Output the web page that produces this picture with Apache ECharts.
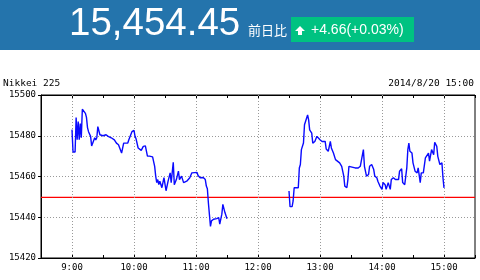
<!DOCTYPE html>
<html><head><meta charset="utf-8">
<script src="https://cdn.jsdelivr.net/npm/echarts@6/dist/echarts.min.js"></script>
<style>html,body{margin:0;padding:0;background:#fff}#c{width:480px;height:280px}</style>
</head><body><div id="c"></div>
<script>
// minutes after 9:00 and index values (morning session)
const amMinutes = [0,1,3,4,5,6,7,8,9,10,13,14,15,16,17,18,19,20,22,23,24,25,26,27,30,33,35,38,41,43,45,48,49,50,51,54,55,58,59,60,61,62,64,67,69,71,73,75,78,79,80,81,82,83,84,85,87,88,89,91,93,95,96,98,99,101,103,104,106,108,111,112,114,116,117,121,122,124,127,129,130,131,132,134,135,137,140,142,143,144,145,146,147,148,149,150];
const amValues = [15483,15472,15472,15489,15478,15487,15478,15486,15479,15493,15491,15489,15484,15482,15481.5,15479.7,15475,15475.6,15479,15478,15479,15484.5,15485.4,15480.5,15480,15480.5,15479.7,15479,15478,15476.4,15475.6,15471.5,15471,15476.4,15477.2,15476.4,15478,15482,15481.3,15482.6,15479.7,15478.5,15474,15472.8,15474.8,15475,15470,15470,15469.6,15469,15465,15460.2,15457,15458.5,15456,15457.7,15454.5,15457,15459.4,15453,15457.7,15461.8,15457,15467,15456,15458.5,15462.6,15458.5,15460.2,15457,15457.7,15458.5,15459.4,15461.8,15461,15462,15460.5,15459.4,15459.5,15458.5,15455.3,15454,15447,15435.5,15438.2,15439,15439.3,15439.8,15436.6,15436.6,15441.5,15446.3,15446.3,15442.3,15441.5,15439.3];
// afternoon session
const pmMinutes = [210,211,213,214,215,219,220,221,222,224,225,226,227,228,229,230,231,232,233,235,237,238,240,242,243,245,246,248,250,251,253,255,256,259,261,263,264,266,267,268,269,274,277,279,282,283,284,285,287,288,290,292,293,295,296,298,300,301,303,304,306,308,309,311,313,314,316,317,319,320,322,324,325,326,327,329,330,332,334,335,337,338,340,342,343,345,346,348,350,351,353,354,356,358,359,360];
const pmValues = [15452.9,15445.2,15445.2,15448,15454.5,15454.5,15464.2,15465.9,15473.2,15476.4,15485.4,15486.2,15488.6,15490.2,15487.8,15482.9,15482.1,15481.3,15476.4,15477.2,15479.7,15479,15478,15477.2,15476.4,15477.2,15473.5,15472.4,15477.2,15474,15471.5,15468.3,15467.5,15466.7,15465,15460.2,15455.3,15454.5,15458.5,15465,15464.2,15464.2,15464.2,15465,15473.2,15465,15465,15460.2,15461,15465,15465.9,15463.4,15460.2,15459.4,15457.7,15455.3,15453.7,15457,15456,15453.7,15457,15453.7,15458.5,15459.4,15458.5,15459.4,15458.5,15462.6,15463.8,15457,15456,15464.2,15473.2,15476.4,15472.4,15471.5,15466.7,15462.6,15461.8,15464.2,15457,15461.8,15461.8,15469.1,15469,15471.5,15467.5,15473.2,15470.7,15476.8,15474.8,15469.9,15465.9,15466.7,15459.4,15454.45];
const prevClose = 15449.79;
const hourLines = [540,600,660,720,780,840,900];
const xRange = [510, 930];
const yTicks = [15420,15440,15460,15480,15500];
const headline = "15,454.45";
const changeLabel = "前日比";
const changeText = "+4.66(+0.03%)";
const indexName = "Nikkei 225";
const stamp = "2014/8/20 15:00";

const toPairs = (ms, vs) => ms.map((m, i) => [540 + m, vs[i]]);
const mono = "'DejaVu Sans Mono', monospace";
const fmt = v => (v % 60 === 0 && v >= 540 && v <= 900) ? (Math.floor(v / 60) + ':00') : '';

const chart = echarts.init(document.getElementById('c'), null, {renderer: 'canvas'});
chart.setOption({
  animation: false,
  backgroundColor: '#fff',
  grid: {left: 41, right: 5, top: 95, bottom: 22, show: true, borderColor: '#000', borderWidth: 1},
  xAxis: [{
    type: 'value', min: xRange[0], max: xRange[1], interval: 30,
    axisLine: {lineStyle: {color: '#000', width: 1}},
    axisTick: {inside: true, length: 3, lineStyle: {color: '#000'}},
    axisLabel: {formatter: fmt, color: '#000', fontFamily: mono, fontSize: 9, margin: 5},
    splitLine: {show: false}
  }, {
    type: 'value', position: 'top', min: xRange[0], max: xRange[1], interval: 30,
    axisLine: {lineStyle: {color: '#000', width: 1}},
    axisTick: {inside: true, length: 3, lineStyle: {color: '#000'}},
    axisLabel: {show: false}, splitLine: {show: false}
  }],
  yAxis: {
    type: 'value', min: yTicks[0], max: yTicks[yTicks.length - 1], interval: 20,
    axisLine: {show: true, lineStyle: {color: '#000'}},
    axisTick: {show: true, length: 3, lineStyle: {color: '#000'}},
    axisLabel: {color: '#000', fontFamily: mono, fontSize: 9, margin: 5, formatter: v => String(v)},
    splitLine: {show: true, lineStyle: {color: '#999', type: [1, 2], width: 1}}
  },
  series: [{
    type: 'line', data: [], silent: true,
    markLine: {
      silent: true, symbol: 'none', label: {show: false},
      lineStyle: {color: '#999', type: [1, 2], width: 1},
      data: hourLines.map(h => ({xAxis: h}))
    }
  }, {
    type: 'line', data: xRange.map(x => [x, prevClose]), silent: true, showSymbol: false,
    lineStyle: {color: '#ff0000', width: 1.3}, z: 4
  }, {
    type: 'line', data: toPairs(amMinutes, amValues), showSymbol: false,
    lineStyle: {color: '#0a0aff', width: 1.4}, z: 5
  }, {
    type: 'line', data: toPairs(pmMinutes, pmValues), showSymbol: false,
    lineStyle: {color: '#0a0aff', width: 1.4}, z: 5
  }],
  graphic: [
    {type: 'rect', left: 0, top: 0, shape: {width: 480, height: 50}, style: {fill: '#2474ac'}},
    {type: 'text', x: 69, y: 24, style: {text: headline, fill: '#fff', font: "38.5px 'Liberation Sans', Arial, sans-serif", verticalAlign: 'middle'}},
    {type: 'text', x: 248, y: 30, style: {text: changeLabel, fill: '#fff', font: "13px 'Noto Sans CJK JP', sans-serif", verticalAlign: 'middle'}},
    {type: 'rect', shape: {x: 291, y: 17, width: 123, height: 25}, style: {fill: '#00c281'}},
    {type: 'polygon', shape: {points: [[300, 26], [305, 31], [302, 31], [302, 35], [298, 35], [298, 31], [295, 31]]}, style: {fill: '#fff'}},
    {type: 'text', x: 311, y: 30, style: {text: changeText, fill: '#fff', font: "14px 'Liberation Sans', Arial, sans-serif", verticalAlign: 'middle'}},
    {type: 'text', x: 3, y: 84, style: {text: indexName, fill: '#000', font: "9.5px " + mono, verticalAlign: 'middle'}},
    {type: 'text', x: 474, y: 84, style: {text: stamp, fill: '#000', font: "9.5px " + mono, align: 'right', verticalAlign: 'middle'}}
  ]
});
</script></body></html>
